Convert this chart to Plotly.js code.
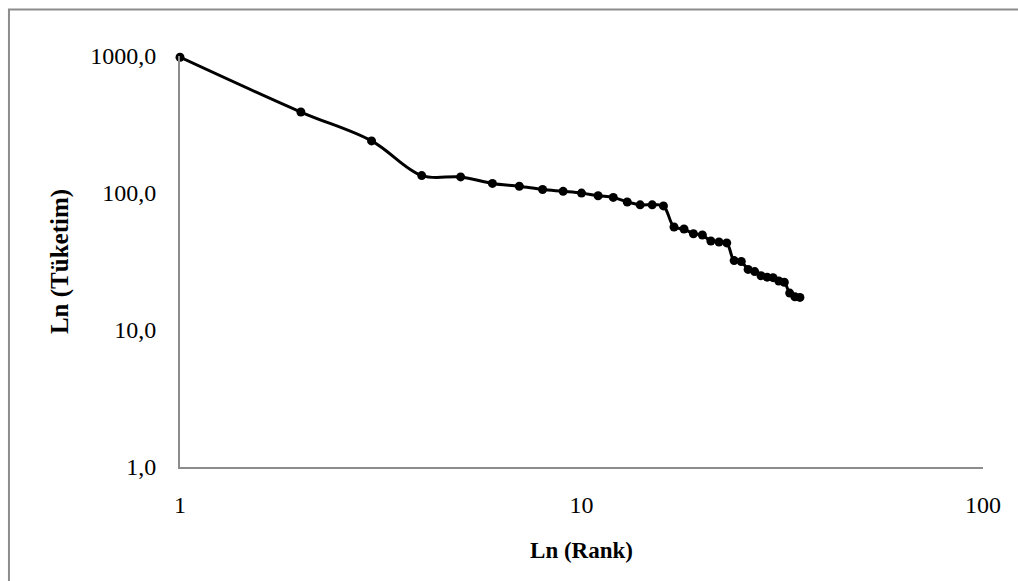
<!DOCTYPE html>
<html>
<head>
<meta charset="utf-8">
<script src="https://cdn.plot.ly/plotly-3.0.1.min.js"></script>
<style>
  html, body { margin: 0; padding: 0; background: #fff; }
  #chart { width: 1018px; height: 581px; }
</style>
</head>
<body>
<div id="chart"></div>
<script>
// Rank of each unit and its consumption value
const rank = [1, 2, 3, 4, 5, 6, 7, 8, 9, 10, 11, 12, 13, 14, 15, 16, 17, 18,
              19, 20, 21, 22, 23, 24, 25, 26, 27, 28, 29, 30, 31, 32, 33, 34, 35];
const tuketim = [980, 390, 240, 134, 131, 117.5, 112, 106, 102.8, 99.8, 95.4, 92.9,
                 85.9, 82, 82, 80.5, 56.5, 54.6, 50.4, 49.4, 44.6, 43.9, 43.2, 32.1,
                 31.6, 27.7, 26.7, 24.9, 24.3, 24.1, 22.8, 22.3, 18.6, 17.5, 17.3];

const xTickVals = [1, 10, 100];
const xTickText = ['1', '10', '100'];
const yTickVals = [1, 10, 100, 1000];
const yTickText = ['1,0', '10,0', '100,0', '1000,0'];

const serif = '"Liberation Serif", "Times New Roman", serif';
const axisGrey = '#8c8c8c';

const trace = {
  x: rank,
  y: tuketim,
  type: 'scatter',
  mode: 'lines+markers',
  cliponaxis: false,
  line: { color: '#000', width: 3, shape: 'spline', smoothing: 1 },
  marker: { color: '#000', size: 9 },
  hoverinfo: 'x+y'
};

const layout = {
  width: 1018,
  height: 581,
  margin: { l: 180, r: 35, t: 55.6, b: 113.5 },
  paper_bgcolor: '#fff',
  plot_bgcolor: '#fff',
  showlegend: false,
  font: { family: serif, size: 24, color: '#000' },
  xaxis: {
    type: 'log',
    range: [0, 2],
    tickvals: xTickVals,
    ticktext: xTickText,
    showgrid: false,
    zeroline: false,
    showline: true,
    linecolor: axisGrey,
    linewidth: 2,
    ticks: '',
    ticklabelstandoff: 15,
    tickfont: { family: serif, size: 24, color: '#000' },
    title: {
      text: '<b>Ln (Rank)</b>',
      font: { family: serif, size: 23, color: '#000' },
      standoff: 25
    }
  },
  yaxis: {
    type: 'log',
    range: [0, 3],
    tickvals: yTickVals,
    ticktext: yTickText,
    showgrid: false,
    zeroline: false,
    showline: true,
    linecolor: axisGrey,
    linewidth: 2,
    ticks: '',
    ticklabelstandoff: 17,
    tickfont: { family: serif, size: 24, color: '#000' },
    title: {
      text: '<b>Ln (Tüketim)</b>',
      font: { family: serif, size: 25, color: '#000' },
      standoff: 14
    }
  },
  shapes: [{
    type: 'rect',
    xref: 'paper', yref: 'paper',
    x0: -0.213, x1: 1.2, y0: -0.6, y1: 1.113,
    line: { color: axisGrey, width: 2 },
    fillcolor: 'rgba(0,0,0,0)',
    layer: 'below'
  }]
};

Plotly.newPlot('chart', [trace], layout, { staticPlot: true, displayModeBar: false });
</script>
</body>
</html>
